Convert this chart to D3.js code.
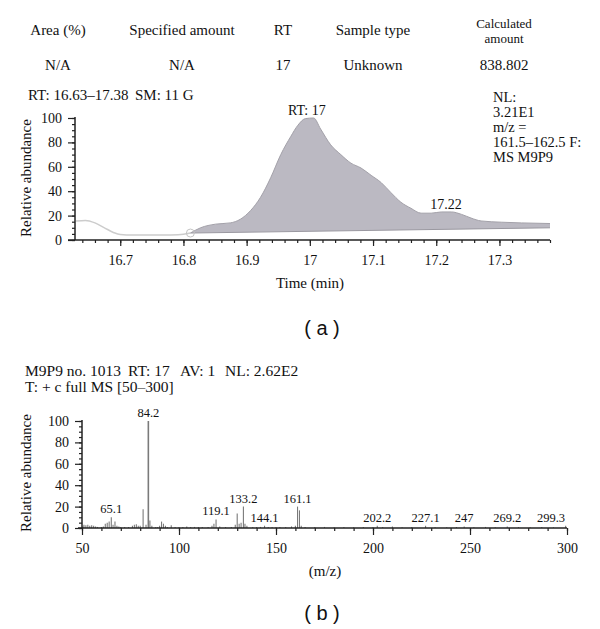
<!DOCTYPE html>
<html><head><meta charset="utf-8">
<script src="https://cdn.jsdelivr.net/npm/d3@7"></script>
<style>
body{margin:0;background:#fff;}
svg text{font-family:"Liberation Serif","Times New Roman",serif;fill:#111;}
</style></head>
<body><svg id="c" width="600" height="629"></svg>
<script>
// ---------- data ----------
const tableHeaders = ["Area (%)", "Specified amount", "RT", "Sample type", "Calculated amount"];
const tableValues = ["N/A", "N/A", "17", "Unknown", "838.802"];

// chromatogram (a): unintegrated part (grey line)
const chromLineTime = [16.63, 16.645, 16.66, 16.675, 16.69, 16.70, 16.72, 16.75, 16.78, 16.80, 16.811];
const chromLineAbund = [15.5, 16, 14, 10, 6, 4.5, 4, 4, 4.2, 4.8, 5.7];
// integrated peak (filled)
const peakTime = [16.811, 16.827, 16.851, 16.874, 16.890, 16.906, 16.922, 16.938, 16.954, 16.970, 16.981, 16.993, 17.006, 17.017, 17.033, 17.049, 17.065, 17.081, 17.097, 17.113, 17.128, 17.144, 17.160, 17.176, 17.192, 17.208, 17.224, 17.240, 17.255, 17.271, 17.303, 17.335, 17.38];
const peakAbund = [5.7, 10, 13, 14, 17, 24, 35, 51, 70, 85, 94, 99.5, 100, 91, 78, 70, 63, 59, 53, 47, 39, 31, 26, 22, 22, 23, 23, 21, 18, 15.6, 14.6, 14, 13.5];
const baselineTime = [16.811, 17.38];
const baselineAbund = [5.7, 10];
const chromXTicks = [16.7, 16.8, 16.9, 17, 17.1, 17.2, 17.3];
const chromYTicks = [0, 20, 40, 60, 80, 100];
const chromPeakLabels = ["RT: 17", "17.22"];
const chromPeakLabelTime = [17.0, 17.22];
const chromPeakLabelAbund = [100, 23];
const chromInfoLeft = ["RT: 16.63\u201317.38", "SM: 11 G"];
const chromInfoRight = ["NL:", "3.21E1", "m/z =", "161.5\u2013162.5 F:", "MS M9P9"];

// mass spectrum (b)
const specMz = [50.5, 51, 52, 53, 54, 55, 56, 57, 58, 60, 61, 62, 63, 64, 65.1, 66, 67, 68, 69, 70, 72, 74, 76, 77, 78, 79, 80, 81.5, 83, 84.2, 85, 86, 88, 89, 90, 91, 92, 93, 94, 96, 98, 100, 102, 104, 106, 108, 110, 112, 115, 117, 118, 119.1, 121, 124, 127, 129, 130, 131, 132, 133.2, 134, 135, 138, 140, 142, 144.1, 146, 148, 150, 152, 155, 158, 160, 161.1, 162.1, 163, 165, 170, 175, 180, 185, 190, 195, 200, 202.2, 205, 210, 215, 220, 227.1, 232, 238, 243, 247, 252, 258, 263, 269.2, 275, 281, 287, 293, 299.3];
const specAbund = [1.5, 3, 2.5, 3, 2, 2.5, 2, 1.5, 1, 1, 1.5, 4, 5, 6, 10, 3, 6, 2, 1.5, 1, 1, 1, 2, 3, 3.5, 2, 2, 17.5, 3, 100, 7, 2, 1, 1, 2, 6, 4, 2, 1, 2.5, 1, 1, 1, 1.5, 1, 1, 1, 1, 1, 2, 4, 8, 1.5, 1, 1, 3, 13.5, 4, 5, 20, 4, 2, 1, 1, 1, 2, 1, 1, 1, 1, 1, 1.5, 2, 20, 16.5, 2, 1, 1, 1, 0.8, 1, 0.8, 1, 1, 2, 1, 1.5, 0.8, 1, 2, 0.8, 0.8, 1, 1.5, 0.8, 1, 0.8, 1.5, 0.8, 0.8, 1, 0.8, 2];
const specLabelMz = [65.1, 84.2, 119.1, 133.2, 144.1, 161.1, 202.2, 227.1, 247, 269.2, 299.3];
const specLabelText = ["65.1", "84.2", "119.1", "133.2", "144.1", "161.1", "202.2", "227.1", "247", "269.2", "299.3"];
const specLabelAbund = [10, 100, 8, 20, 2, 20, 2, 2, 1.5, 1.5, 2];
const specXTicks = [50, 100, 150, 200, 250, 300];
const specYTicks = [0, 20, 40, 60, 80, 100];
const specTitle = ["M9P9 no. 1013", "RT: 17", "AV: 1", "NL: 2.62E2"];
const specSubtitle = "T: + c full MS [50\u2013300]";

// ---------- drawing ----------
const svg = d3.select("#c");
const fs = 15;

// table
const colX = [58, 182, 283, 373, 504];
tableHeaders.forEach((h, i) => {
  if (h === "Calculated amount") {
    svg.append("text").attr("x", colX[i]).attr("y", 28).attr("text-anchor", "middle").attr("font-size", 13).text("Calculated");
    svg.append("text").attr("x", colX[i]).attr("y", 43).attr("text-anchor", "middle").attr("font-size", 13).text("amount");
  } else {
    svg.append("text").attr("x", colX[i]).attr("y", 35).attr("text-anchor", "middle").attr("font-size", fs).text(h);
  }
  svg.append("text").attr("x", colX[i]).attr("y", 70).attr("text-anchor", "middle")
    .attr("font-size", fs).text(tableValues[i]);
});
svg.append("text").attr("x", 28).attr("y", 100).attr("font-size", fs).text(chromInfoLeft[0]);
svg.append("text").attr("x", 135).attr("y", 100).attr("font-size", fs).text(chromInfoLeft[1]);
chromInfoRight.forEach((t, i) => {
  svg.append("text").attr("x", 493).attr("y", 102 + i * 15).attr("font-size", 14.5).text(t);
});

// chart a scales
const xa = d3.scaleLinear().domain([16.63, 17.38]).range([76, 550]);
const ya = d3.scaleLinear().domain([0, 100]).range([240, 118]);

// filled peak
const topLine = d3.line().x(d => xa(d[0])).y(d => ya(d[1])).curve(d3.curveMonotoneX);
const topPts = peakTime.map((t, i) => [t, peakAbund[i]]);
const fillPath = topLine(topPts) + "L" + xa(baselineTime[1]) + "," + ya(baselineAbund[1]) +
  "L" + xa(baselineTime[0]) + "," + ya(baselineAbund[0]) + "Z";
svg.append("path").attr("d", fillPath).attr("fill", "#bbb9c2").attr("stroke", "none");
svg.append("path").attr("d", topLine(topPts)).attr("fill", "none").attr("stroke", "#a3a1a9").attr("stroke-width", 1);
svg.append("line").attr("x1", xa(baselineTime[0])).attr("y1", ya(baselineAbund[0]))
  .attr("x2", xa(baselineTime[1])).attr("y2", ya(baselineAbund[1]))
  .attr("stroke", "#9a98a0").attr("stroke-width", 1);
// grey unintegrated trace
svg.append("path").attr("d", topLine(chromLineTime.map((t, i) => [t, chromLineAbund[i]])))
  .attr("fill", "none").attr("stroke", "#cccccc").attr("stroke-width", 1.5);
svg.append("circle").attr("cx", xa(baselineTime[0])).attr("cy", ya(baselineAbund[0])).attr("r", 4)
  .attr("fill", "none").attr("stroke", "#c4c4c4").attr("stroke-width", 1);

// axes a
function styleAxis(g) {
  g.selectAll("path.domain").remove();
  g.selectAll("line").attr("stroke", "#222").attr("stroke-width", 1.2);
  g.selectAll("text").attr("font-size", 14).attr("font-family", "Liberation Serif").attr("fill", "#111");
}
const gxa = svg.append("g").attr("transform", "translate(0,240)");
gxa.call(d3.axisBottom(xa).tickValues(d3.range(16.64, 17.385, 0.02)).tickSize(3).tickFormat(""));
gxa.append("g").call(d3.axisBottom(xa).tickValues(chromXTicks).tickSize(6).tickPadding(9).tickFormat(d3.format("")));
styleAxis(gxa);
svg.append("line").attr("x1", 68).attr("x2", 550).attr("y1", 240).attr("y2", 240).attr("stroke", "#222").attr("stroke-width", 1.5);
const gya = svg.append("g").attr("transform", "translate(75,0)");
gya.call(d3.axisLeft(ya).tickValues(d3.range(0, 101, 5)).tickSize(3).tickFormat(""));
gya.append("g").call(d3.axisLeft(ya).tickValues(chromYTicks).tickSize(7).tickPadding(6));
styleAxis(gya);
svg.append("line").attr("x1", 75).attr("x2", 75).attr("y1", 117).attr("y2", 240).attr("stroke", "#222").attr("stroke-width", 1.5);

chromPeakLabels.forEach((t, i) => {
  svg.append("text").attr("x", xa(chromPeakLabelTime[i]) - 3).attr("y", ya(chromPeakLabelAbund[i]) - 3)
    .attr("text-anchor", "middle").attr("font-size", 14).text(t);
});
svg.append("text").attr("transform", "translate(31,178) rotate(-90)").attr("text-anchor", "middle")
  .attr("font-size", fs).text("Relative abundance");
svg.append("text").attr("x", 310).attr("y", 288).attr("text-anchor", "middle").attr("font-size", fs).text("Time (min)");
svg.append("text").attr("x", 322).attr("y", 335).attr("text-anchor", "middle").attr("font-size", 20)
  .style("font-family", "Liberation Sans, Arial, sans-serif").text("( a )");

// chart b
const titleX = [25, 128, 180, 225];
specTitle.forEach((t, i) => svg.append("text").attr("x", titleX[i]).attr("y", 376).attr("font-size", 15.5).text(t));
svg.append("text").attr("x", 25).attr("y", 392).attr("font-size", 15.5).text(specSubtitle);

const xb = d3.scaleLinear().domain([50, 300]).range([82, 567]);
const yb = d3.scaleLinear().domain([0, 100]).range([528, 421]);
svg.append("g").selectAll("line").data(specMz).join("line")
  .attr("x1", d => xb(d)).attr("x2", d => xb(d))
  .attr("y1", yb(0)).attr("y2", (d, i) => yb(specAbund[i]))
  .attr("stroke", "#7a7a7a").attr("stroke-width", (d, i) => specAbund[i] > 50 ? 1.6 : 1.1);
specLabelMz.forEach((m, i) => {
  let x = xb(m), anchor = "middle";
  if (x + 14 > xb(300)) { x = xb(300) - 2; anchor = "end"; }
  svg.append("text").attr("x", x).attr("y", yb(specLabelAbund[i]) - 4).attr("text-anchor", anchor)
    .attr("font-size", 12.5).text(specLabelText[i]);
});

const gxb = svg.append("g").attr("transform", "translate(0,528)");
gxb.call(d3.axisBottom(xb).tickValues(d3.range(50, 301, 10)).tickSize(3).tickFormat(""));
gxb.append("g").call(d3.axisBottom(xb).tickValues(specXTicks).tickSize(7).tickPadding(8));
styleAxis(gxb);
svg.append("line").attr("x1", 78).attr("x2", 567).attr("y1", 528).attr("y2", 528).attr("stroke", "#222").attr("stroke-width", 1.5);
const gyb = svg.append("g").attr("transform", "translate(82,0)");
gyb.call(d3.axisLeft(yb).tickValues(d3.range(0, 101, 5)).tickSize(3).tickFormat(""));
gyb.append("g").call(d3.axisLeft(yb).tickValues(specYTicks).tickSize(7).tickPadding(6));
styleAxis(gyb);
svg.append("line").attr("x1", 82).attr("x2", 82).attr("y1", 420).attr("y2", 528).attr("stroke", "#222").attr("stroke-width", 1.5);

svg.append("text").attr("transform", "translate(31,473) rotate(-90)").attr("text-anchor", "middle")
  .attr("font-size", fs).text("Relative abundance");
svg.append("text").attr("x", 325).attr("y", 576).attr("text-anchor", "middle").attr("font-size", fs).text("(m/z)");
svg.append("text").attr("x", 322).attr("y", 620).attr("text-anchor", "middle").attr("font-size", 20)
  .style("font-family", "Liberation Sans, Arial, sans-serif").text("( b )");
</script></body></html>
